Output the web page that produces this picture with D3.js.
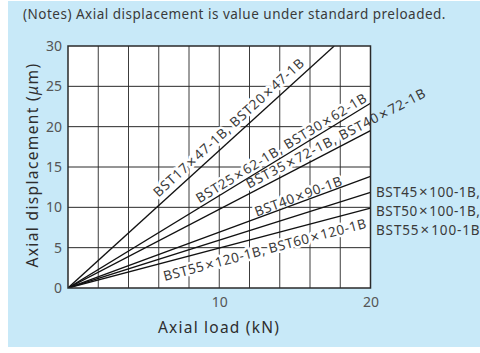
<!DOCTYPE html>
<html>
<head>
<meta charset="utf-8">
<script src="https://cdn.jsdelivr.net/npm/d3@7"></script>
<style>
  html, body { margin: 0; padding: 0; background: #ffffff; }
  svg { display: block; }
  text { font-family: "Noto Sans", "Open Sans", sans-serif; }
</style>
</head>
<body>
<svg id="chart" width="480" height="353"></svg>
<script>
// ---- data ----
const seriesNames = [
  "BST17×47-1B, BST20×47-1B",
  "BST25×62-1B, BST30×62-1B",
  "BST35×72-1B, BST40×72-1B",
  "BST40×90-1B",
  "BST45×100-1B, BST50×100-1B, BST55×100-1B",
  "BST55×120-1B, BST60×120-1B"
];
const loadStart = [0, 0, 0, 0, 0, 0];
const loadEnd = [17.6, 20, 20, 20, 20, 20];
const dispStart = [0, 0, 0, 0, 0, 0];
const dispEnd = [30, 22.9, 19.5, 13.85, 11.85, 9.9];
const xTicks = [10, 20];
const yTicks = [0, 5, 10, 15, 20, 25, 30];
const xGrid = [2, 4, 6, 8, 10, 12, 14, 16, 18];
const yGrid = [5, 10, 15, 20, 25];
const noteText = "(Notes) Axial displacement is value under standard preloaded.";
const xTitle = "Axial load (kN)";
const sideLabelLines = ["BST45×100-1B,", "BST50×100-1B,", "BST55×100-1B"];

// ---- layout ----
const svg = d3.select("#chart");
const L = 68, R = 370.5, T = 46, B = 288;
const x = d3.scaleLinear().domain([0, 20]).range([L, R]);
const y = d3.scaleLinear().domain([0, 30]).range([B, T]);

function fitWidth(sel, target) {
  const node = sel.node();
  const n = node.textContent.length;
  const w = node.getComputedTextLength();
  const ls = (target - w) / Math.max(1, n);
  sel.attr("letter-spacing", ls);
  return ls;
}

// writes a label, giving the multiplication sign a wider, roomier glyph
function writeLabel(sel, str) {
  const parts = str.split("×");
  parts.forEach((p, k) => {
    if (k > 0) {
      sel.append("tspan").attr("dx", 1.2).attr("font-size", "1.12em").text("×");
      sel.append("tspan").attr("dx", 1.2).text(p);
    } else {
      sel.append("tspan").text(p);
    }
  });
  return sel;
}

svg.append("rect").attr("x", 8).attr("y", 1).attr("width", 472).attr("height", 346)
  .attr("fill", "#c8e9f8");

const note = svg.append("text").attr("x", 23).attr("y", 19).attr("font-size", 13.5)
  .attr("fill", "#3a3a3a").text(noteText);
fitWidth(note, 423);

svg.append("rect").attr("x", L).attr("y", T).attr("width", R - L).attr("height", B - T)
  .attr("fill", "#ffffff");

svg.append("defs").append("clipPath").attr("id", "plotclip")
  .append("rect").attr("x", L).attr("y", T).attr("width", R - L).attr("height", B - T);

// grid
svg.append("g").selectAll("line").data(xGrid).join("line")
  .attr("x1", d => x(d)).attr("x2", d => x(d)).attr("y1", T).attr("y2", B)
  .attr("stroke", "#3c3c3c").attr("stroke-width", 1);
svg.append("g").selectAll("line").data(yGrid).join("line")
  .attr("y1", d => y(d)).attr("y2", d => y(d)).attr("x1", L).attr("x2", R)
  .attr("stroke", "#2a2a2a").attr("stroke-width", 1);

// axes tick labels via d3 axes
const yAxis = d3.axisLeft(y).tickValues(yTicks).tickSize(0).tickPadding(6);
const gy = svg.append("g").attr("transform", `translate(${L},0)`).call(yAxis);
gy.select(".domain").remove();
gy.selectAll("text").attr("font-size", 14).attr("fill", "#555")
  .attr("font-family", '"Noto Sans", sans-serif');

const xAxis = d3.axisBottom(x).tickValues(xTicks).tickSize(0).tickPadding(9);
const gx = svg.append("g").attr("transform", `translate(0,${B})`).call(xAxis);
gx.select(".domain").remove();
gx.selectAll("text").attr("font-size", 14).attr("fill", "#555")
  .attr("font-family", '"Noto Sans", sans-serif');

// label specs (layout): fraction along line, perpendicular offset (px, + = above), target width
const labelSpec = [
  {t: 0.631, off: 11, w: 194},
  {t: 0.72, off: 8.5, w: 193},
  {t: 0.90, off: 9.5, w: 196},
  {t: 0.769, off: 6.5, w: 90},
  null,
  {t: 0.64, off: -13, w: 205}
];

function labelPos(i) {
  const s = labelSpec[i];
  const x0 = x(loadStart[i]), y0 = y(dispStart[i]);
  const x1 = x(loadEnd[i]), y1 = y(dispEnd[i]);
  const dx = x1 - x0, dy = y1 - y0;
  const len = Math.hypot(dx, dy);
  const ux = dx / len, uy = dy / len;
  const nx = uy, ny = -ux;
  const px = x0 + dx * s.t + nx * s.off;
  const py = y0 + dy * s.t + ny * s.off;
  const rot = Math.atan2(dy, dx) * 180 / Math.PI;
  return {px, py, rot};
}

const labelIdx = [0, 1, 2, 3, 5];

// halo (clipped to plot)
const haloG = svg.append("g").attr("clip-path", "url(#plotclip)");
const haloSel = {};
labelIdx.forEach(i => {
  const p = labelPos(i);
  haloSel[i] = writeLabel(haloG.append("text")
    .attr("transform", `translate(${p.px},${p.py}) rotate(${p.rot})`)
    .attr("text-anchor", "middle").attr("dominant-baseline", "central")
    .attr("font-size", 13.5)
    .attr("fill", "#fff").attr("stroke", "#fff").attr("stroke-width", 5)
    .attr("stroke-linejoin", "round"), seriesNames[i]);
});

// series lines
const lineGen = d3.line().x(d => x(d[0])).y(d => y(d[1]));
svg.append("g").attr("clip-path", "url(#plotclip)").selectAll("path")
  .data(seriesNames.map((n, i) => [[loadStart[i], dispStart[i]], [loadEnd[i], dispEnd[i]]]))
  .join("path")
  .attr("d", lineGen).attr("fill", "none").attr("stroke", "#111").attr("stroke-width", 1.3);

// border
svg.append("rect").attr("x", L).attr("y", T).attr("width", R - L).attr("height", B - T)
  .attr("fill", "none").attr("stroke", "#2a2a2a").attr("stroke-width", 1.5);

// label text
labelIdx.forEach(i => {
  const p = labelPos(i);
  const t = writeLabel(svg.append("text")
    .attr("transform", `translate(${p.px},${p.py}) rotate(${p.rot})`)
    .attr("text-anchor", "middle").attr("dominant-baseline", "central")
    .attr("font-size", 13.5)
    .attr("fill", "#3a3a3a"), seriesNames[i]);
  const ls = fitWidth(t, labelSpec[i].w);
  haloSel[i].attr("letter-spacing", ls);
});

// side label for series 5
svg.append("g").selectAll("text").data(sideLabelLines).join("text")
  .attr("x", 376).attr("y", (d, k) => 197 + k * 19)
  .attr("font-size", 13.5).attr("fill", "#3a3a3a")
  .each(function (d) { writeLabel(d3.select(this), d); fitWidth(d3.select(this), 102); });

// axis titles
const xt = svg.append("text").attr("x", 219).attr("y", 333)
  .attr("text-anchor", "middle").attr("font-size", 15.5).attr("fill", "#2e2e2e").text(xTitle);
fitWidth(xt, 122);

const yt = svg.append("text").attr("transform", "translate(38,165) rotate(-90)")
  .attr("text-anchor", "middle").attr("font-size", 15.5).attr("fill", "#2e2e2e");
yt.append("tspan").text("Axial displacement (");
yt.append("tspan").attr("font-style", "italic").text("μ");
yt.append("tspan").text("m)");
fitWidth(yt, 205);
</script>
</body>
</html>
